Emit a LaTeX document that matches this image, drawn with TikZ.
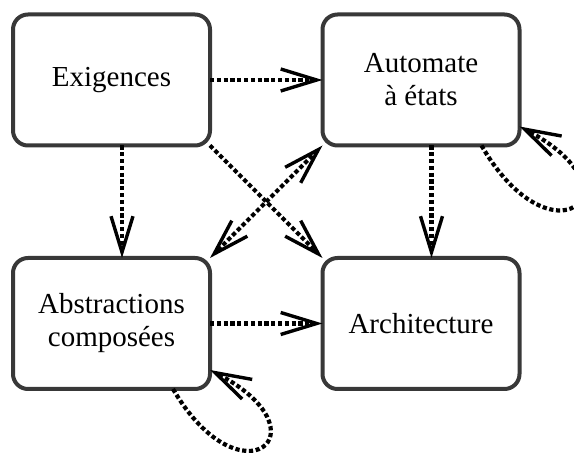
\documentclass[tikz,border=0pt]{standalone}
\usepackage{fontspec}
\setmainfont{Liberation Serif}
\newfontfamily\timesfont{Liberation Serif}
\usetikzlibrary{arrows.meta}
\definecolor{boxline}{HTML}{383838}
\tikzset{
  box/.style={draw=boxline, line width=4pt, rounded corners=15pt, fill=white,
    minimum width=197pt, minimum height=131pt, inner sep=0pt, outer sep=0pt,
    align=center, font=\timesfont\fontsize{29}{33}\selectfont},
  tipb/.tip={Straight Barb[length=36pt,width=22pt,line width=3.4pt]},
  dep/.style={line width=4.2pt, dash pattern=on 4.2pt off 2.6pt, -tipb},
  bidep/.style={line width=4.2pt, dash pattern=on 4.2pt off 2.6pt, tipb-tipb}
}
\begin{document}
\begin{tikzpicture}[x=1pt,y=-1pt]
\clip (0,0) rectangle (574,454);
\node[box] (ex) at (111.5,80) {Exigences};
\node[box] (aut) at (421,80) {Automate\\à états};
\node[box] (abs) at (111.5,323.5) {Abstractions\\composées};
\node[box] (arch) at (421,323.5) {Architecture};
\draw[dep] (ex.east) -- (aut.west);
\draw[dep] ([xshift=10.5pt]ex.south) -- ([xshift=10.5pt]abs.north);
\draw[dep] ([xshift=10.5pt]aut.south) -- ([xshift=10.5pt]arch.north);
\draw[dep] (abs.east) -- (arch.west);
\draw[dep] (ex.south east) -- (arch.north west);
\draw[bidep] (aut.south west) -- (abs.north east);
\draw[dep] ([xshift=-38pt]aut.south east) .. controls +(70,122) and +(125,65) .. ([yshift=19pt]aut.south east);
\draw[dep] ([xshift=-37pt]abs.south east) .. controls +(68,117) and +(120,62) .. ([yshift=19pt]abs.south east);
\end{tikzpicture}
\end{document}
